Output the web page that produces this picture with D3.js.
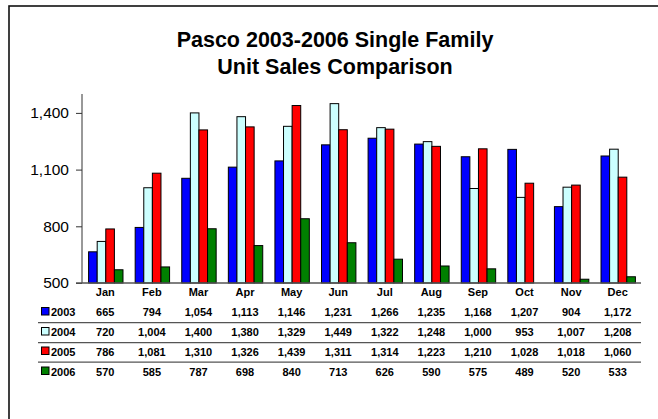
<!DOCTYPE html>
<html><head><meta charset="utf-8">
<script src="https://cdn.jsdelivr.net/npm/d3@7/dist/d3.min.js"></script>
<style>body{margin:0;background:#fff}svg{display:block;font-family:"Liberation Sans",Arial,sans-serif}</style>
</head><body><svg id="c" width="658" height="419"></svg>
<script>
const months = ["Jan","Feb","Mar","Apr","May","Jun","Jul","Aug","Sep","Oct","Nov","Dec"];
const years = ["2003","2004","2005","2006"];
const s2003 = [665,794,1054,1113,1146,1231,1266,1235,1168,1207,904,1172];
const s2004 = [720,1004,1400,1380,1329,1449,1322,1248,1000,953,1007,1208];
const s2005 = [786,1081,1310,1326,1439,1311,1314,1223,1210,1028,1018,1060];
const s2006 = [570,585,787,698,840,713,626,590,575,489,520,533];
const colors = ["#0000FF","#CCFFFF","#FF0000","#008000"];
const yTicks = [500,800,1100,1400];
const titleLines = ["Pasco 2003-2006 Single Family","Unit Sales Comparison"];

const series = [s2003,s2004,s2005,s2006];
const svg = d3.select("#c");
const fmt = d3.format(",");

// outer frame
svg.append("rect").attr("x",9).attr("y",6).attr("width",660).attr("height",430)
  .attr("fill","none").attr("stroke","#111").attr("stroke-width",1.6);

// title
titleLines.forEach((t,i)=>{
  svg.append("text").attr("x",335).attr("y",47+i*27).attr("text-anchor","middle")
    .attr("font-weight","bold").attr("font-size",21.5).attr("fill","#000").text(t);
});

const x = d3.scaleBand().domain(months).range([82,641]).paddingInner(0).paddingOuter(0);
const y = d3.scaleLinear().domain([500,1500]).range([283,94]);
const bw = 8.6;
const xs = d3.scaleBand().domain(years).range([0,bw*4]);

const plot = svg.append("g");
series.forEach((vals,si)=>{
  plot.selectAll(null).data(vals.map((v,i)=>({m:months[i],v}))).enter()
    .filter(d=>d.v>500)
    .append("rect")
    .attr("x",d=>x(d.m)+x.bandwidth()/2-bw*2+0.5+xs(years[si]))
    .attr("y",d=>y(d.v))
    .attr("width",bw)
    .attr("height",d=>y(500)-y(d.v))
    .attr("fill",colors[si]).attr("stroke","#000").attr("stroke-width",1);
});

const yAxis = d3.axisLeft(y).tickValues(yTicks).tickFormat(fmt).tickSize(6).tickPadding(7);
const ga = svg.append("g").attr("transform","translate(82,0)").call(yAxis);
ga.select(".domain").attr("stroke","#333").attr("d","M0,94V283");
ga.selectAll(".tick line").attr("stroke","#333");
ga.selectAll(".tick text").attr("font-size",15.5).attr("fill","#000").attr("font-family","Liberation Sans, Arial, sans-serif");

svg.append("line").attr("x1",76).attr("x2",641).attr("y1",283).attr("y2",283).attr("stroke","#555").attr("stroke-width",1.3);

svg.selectAll(null).data(months).enter().append("text")
  .attr("x",d=>x(d)+x.bandwidth()/2).attr("y",296)
  .attr("text-anchor","middle").attr("font-weight","bold").attr("font-size",11).text(d=>d);

const rowY = [316,336,355.5,375.5];
const sepY = [322.7,342.7,362.2];
sepY.forEach(yy=>{
  svg.append("line").attr("x1",38).attr("x2",641).attr("y1",yy).attr("y2",yy).attr("stroke","#555").attr("stroke-width",1.2);
});
series.forEach((vals,si)=>{
  svg.append("rect").attr("x",41.5).attr("y",rowY[si]-8.5).attr("width",7.5).attr("height",7.5)
    .attr("fill",colors[si]).attr("stroke","#000").attr("stroke-width",1);
  svg.append("text").attr("x",51).attr("y",rowY[si]).attr("font-weight","bold").attr("font-size",11).text(years[si]);
  svg.selectAll(null).data(vals.map((v,i)=>({m:months[i],v}))).enter().append("text")
    .attr("x",d=>x(d.m)+x.bandwidth()/2).attr("y",rowY[si])
    .attr("text-anchor","middle").attr("font-weight","bold").attr("font-size",11).text(d=>fmt(d.v));
});
</script></body></html>
